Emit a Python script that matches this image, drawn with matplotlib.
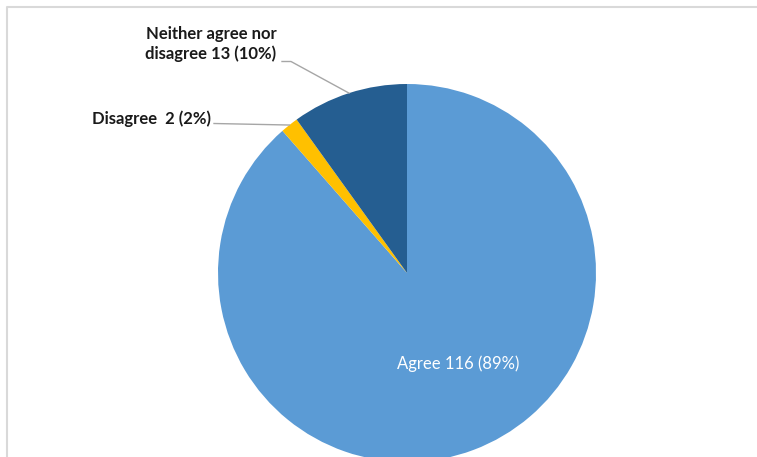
import numpy as np
import matplotlib.pyplot as plt

labels = ['Agree', 'Disagree', 'Neither agree nor\ndisagree']
counts = [116, 2, 13]
pcts = [89, 2, 10]
colors = ['#5B9BD5', '#FFC000', '#255E91']

W, H = 757, 457
cx, cy, r = 407, 273, 189

fig = plt.figure(figsize=(W / 100, H / 100), dpi=100)
ax = fig.add_axes([0, 0, 1, 1])

# y is flipped, so counterclock in data space runs clockwise on screen
wedges, _ = ax.pie(counts, colors=colors, startangle=-90, counterclock=True,
                   center=(cx, cy), radius=r, frame=True,
                   wedgeprops=dict(linewidth=0))
ax.set_xlim(0, W)
ax.set_ylim(H, 0)
ax.set_aspect('equal')
ax.axis('off')

# outer chart border (left and top edges visible)
ax.plot([7, 7, 760], [460, 6.5, 6.5], color='#d9d9d9', lw=1.5)

total = sum(counts)
cum = np.cumsum([0] + counts)
mids = (cum[:-1] + np.array(counts) / 2) / total * 2 * np.pi
edge = [(cx + r * np.sin(a), cy - r * np.cos(a)) for a in mids]

font = dict(family=['Lato', 'DejaVu Sans'], fontsize=12)

# Agree label inside the slice
ax.text(458, 364, f'{labels[0]} {counts[0]} ({pcts[0]}%)', color='white',
        ha='center', va='center', **font)

# Disagree label with leader line
ex, ey = edge[1]
ax.plot([214, ex], [123.5, ey], color='#a6a6a6', lw=1)
ax.text(211, 119, f'{labels[1]}  {counts[1]} ({pcts[1]}%)', ha='right', va='center',
        fontweight='bold', color='#1a1a1a', **font)

# Neither label with leader line
ex, ey = edge[2]
ax.plot([282, 291, ex], [61.5, 61.5, ey], color='#a6a6a6', lw=1)
ax.text(211, 44, f'{labels[2]} {counts[2]} ({pcts[2]}%)', ha='center', va='center',
        fontweight='bold', color='#1a1a1a', linespacing=1.2, **font)

fig.savefig('out.png', dpi=100)
